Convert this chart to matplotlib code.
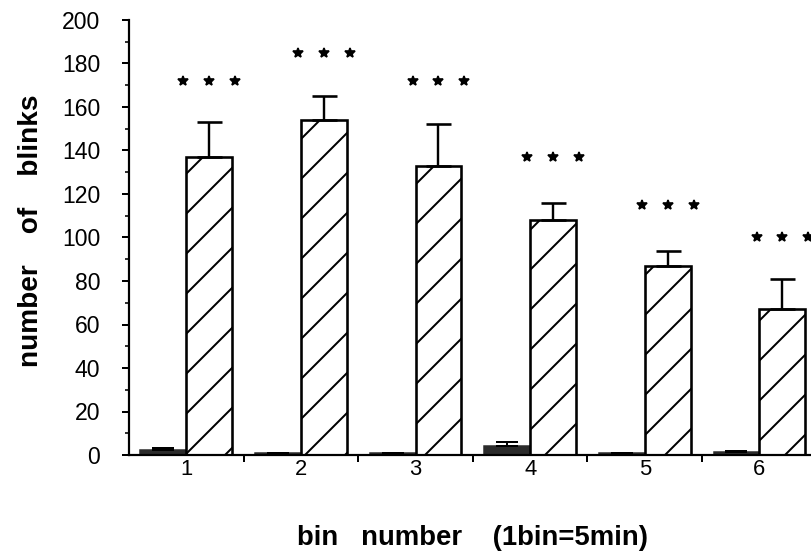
import matplotlib.pyplot as plt
import numpy as np

DPI = 120  # hatch spacing follows the dpi, so sizes below are given in pixels


def pt(px):
    return px * 72 / DPI


plt.rcParams["font.family"] = ["Liberation Sans", "DejaVu Sans"]
plt.rcParams["hatch.linewidth"] = pt(2)

bins = ["1", "2", "3", "4", "5", "6"]
control = [2.5, 1, 1, 4, 1, 1.5]
control_err = [0.5, 0, 0, 2, 0, 0.5]
treated = [137, 154, 133, 108, 87, 67]
treated_err = [16, 11, 19, 8, 7, 14]
star_y = [172, 185, 172, 137, 115, 100]

fig = plt.figure(figsize=(811 / DPI, 554 / DPI), dpi=DPI)
ax = fig.add_axes([129 / 811, 99 / 554, 682 / 811, 435 / 554])

x = np.arange(len(bins))
w = 0.40

ax.bar(x - w / 2, control, w, color="#2b2b2b", edgecolor="#2b2b2b", linewidth=pt(1.5))
ax.errorbar(x - w / 2, control, yerr=[np.zeros(6), control_err], fmt="none",
            ecolor="black", elinewidth=pt(2), capsize=pt(11), capthick=pt(2))
ax.bar(x + w / 2, treated, w, color="white", edgecolor="black", linewidth=pt(2.6),
       hatch="/")
ax.errorbar(x + w / 2, treated, yerr=[np.zeros(6), treated_err], fmt="none",
            ecolor="black", elinewidth=pt(2.4), capsize=pt(12.5), capthick=pt(2.6))

# significance stars above each treated bar
for dx in (-0.225, 0, 0.225):
    ax.plot(x + w / 2 + dx, star_y, ls="none", marker="*", ms=pt(11),
            color="black", clip_on=False)

ax.set_xlim(-0.5, 5.45)
ax.set_ylim(0, 200)
ax.set_yticks(np.arange(0, 201, 20))
ax.set_yticks(np.arange(0, 201, 10), minor=True)
ax.set_xticks(np.arange(0.5, 5, 1))
ax.set_xticklabels([])
ax.set_xticks(x, minor=True)
ax.set_xticklabels(bins, minor=True)
ax.tick_params(axis="x", which="minor", length=0, pad=pt(4), labelsize=pt(22))
ax.tick_params(axis="x", which="major", length=pt(7), width=pt(2), direction="out")
ax.tick_params(axis="y", which="major", length=pt(7), width=pt(2),
               labelsize=pt(23), pad=pt(22))
ax.tick_params(axis="y", which="minor", length=pt(4), width=pt(1.6))

for s in ("top", "right"):
    ax.spines[s].set_visible(False)
for s in ("left", "bottom"):
    ax.spines[s].set_linewidth(pt(2.2))

ax.set_ylabel("number    of    blinks", fontsize=pt(28), fontweight="bold")
ax.yaxis.set_label_coords(-0.125, 0.515)
ax.set_xlabel("bin   number    (1bin=5min)", fontsize=pt(27.5), fontweight="bold")
ax.xaxis.set_label_coords(0.503, -0.162)

fig.savefig("out.png", dpi=DPI)
